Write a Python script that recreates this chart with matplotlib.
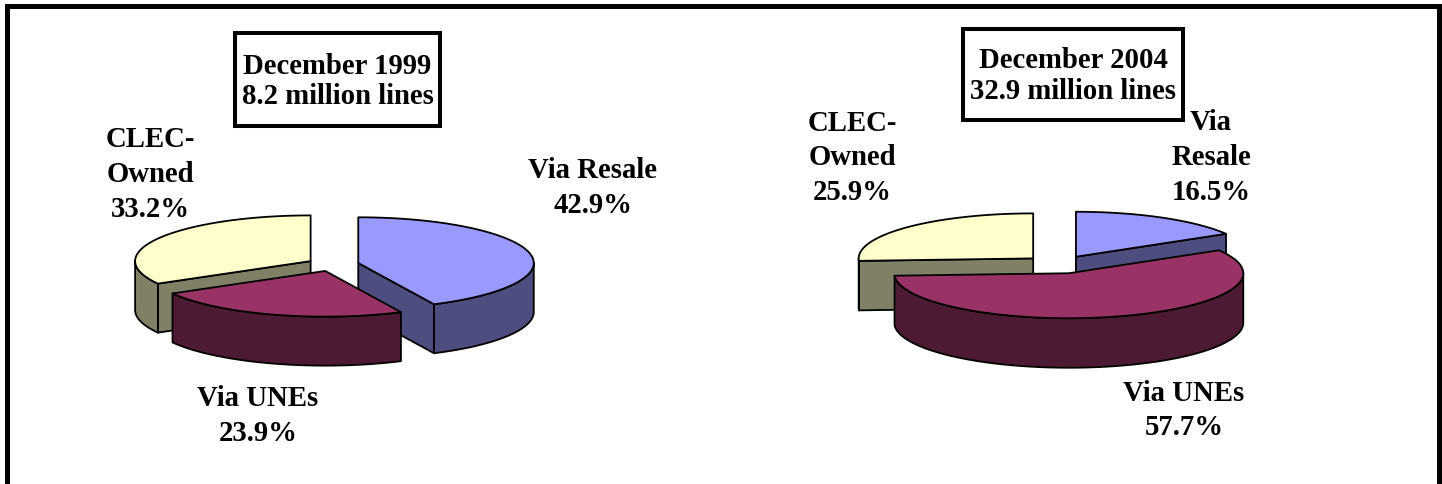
import numpy as np
import matplotlib
matplotlib.use("Agg")
import matplotlib.pyplot as plt
from matplotlib.patches import Polygon, Rectangle

# ---------------- data ----------------
categories = ["Via Resale", "Via UNEs", "CLEC-Owned"]
values_1999 = [42.9, 23.9, 33.2]
values_2004 = [16.5, 57.7, 25.9]
title_1999 = "December 1999\n8.2 million lines"
title_2004 = "December 2004\n32.9 million lines"
labels_1999 = ["Via Resale\n42.9%", "Via UNEs\n23.9%", "CLEC-\nOwned\n33.2%"]
labels_2004 = ["Via\nResale\n16.5%", "Via UNEs\n57.7%", "CLEC-\nOwned\n25.9%"]

top_colors = ["#9999FF", "#993366", "#FFFFCC"]
side_colors = ["#4D4D80", "#4D1A33", "#808066"]

W, H = 1442, 485
fig = plt.figure(figsize=(W / 100, H / 100), dpi=100)
ax = fig.add_axes([0, 0, 1, 1])
ax.set_xlim(0, W)
ax.set_ylim(H, 0)
ax.axis("off")

EC = "black"
LW = 1.3


def arc(sx, sy, rx, ry, t1, t2, dz=0.0, n=None):
    if n is None:
        n = max(2, int(abs(t2 - t1) / 1.5) + 2)
    t = np.radians(np.linspace(t1, t2, n))
    return np.column_stack([sx + rx * np.sin(t), sy - ry * np.cos(t) + dz])


def draw_pie(values, cx, cy, rx, ry, h, explode, z0=2):
    total = float(sum(values))
    start = 0.0
    slices = []
    for i, v in enumerate(values):
        t1 = start
        t2 = start + v / total * 360.0
        start = t2
        mid = np.radians((t1 + t2) / 2)
        sx = cx + explode * np.sin(mid)
        sy = cy - explode * (ry / rx) * np.cos(mid)
        slices.append((sy, i, t1, t2, sx))
    slices.sort()
    z = z0
    for sy, i, t1, t2, sx in slices:
        fc_top = top_colors[i]
        fc_side = side_colors[i]
        parts = []
        # radial faces
        for ang, nrm in ((t1, t1 - 90), (t2, t2 + 90)):
            if np.cos(np.radians(nrm)) < -1e-6:
                ox = sx + rx * np.sin(np.radians(ang))
                oy = sy - ry * np.cos(np.radians(ang))
                parts.append([(sx, sy), (ox, oy), (ox, oy + h), (sx, sy + h)])
        # outer curved side (front half only)
        a1, a2 = max(t1, 90.0), min(t2, 270.0)
        if a2 > a1:
            topa = arc(sx, sy, rx, ry, a1, a2)
            bota = arc(sx, sy, rx, ry, a1, a2, dz=h)[::-1]
            parts.append(np.vstack([topa, bota]))
        for p in parts:
            ax.add_patch(Polygon(p, closed=True, fc=fc_side, ec=EC, lw=LW,
                                 joinstyle="round", zorder=z))
        z += 0.1
        topface = np.vstack([[(sx, sy)], arc(sx, sy, rx, ry, t1, t2)])
        ax.add_patch(Polygon(topface, closed=True, fc=fc_top, ec=EC, lw=LW,
                             joinstyle="round", zorder=z))
        z += 0.1


draw_pie(values_1999, cx=333.0, cy=265.5, rx=175.5, ry=45.7, h=49.0, explode=25.9)
draw_pie(values_2004, cx=1058.6, cy=265.6, rx=174.5, ry=45.0, h=49.5, explode=35.0)

FONT = dict(family="Liberation Serif", weight="bold", fontsize=20.7, color="black")

# title boxes
for (x0, y0, x1, y1), txt in (((234.7, 33.7, 440.3, 127.0), title_1999),
                               ((963.0, 29.5, 1183.0, 121.0), title_2004)):
    ax.add_patch(Rectangle((x0, y0), x1 - x0, y1 - y0, fc="white", ec="black",
                           lw=2.9, zorder=10))
    ax.text((x0 + x1) / 2, (y0 + y1) / 2 + 1, txt, ha="center", va="center",
            multialignment="center", linespacing=1.17, zorder=11, **FONT)

# data labels
label_pos_1999 = [(593, 188), (258, 416), (150, 174.5)]
label_pos_2004 = [(1211, 157.5), (1184, 410.5), (852, 158)]
for labels, poss in ((labels_1999, label_pos_1999), (labels_2004, label_pos_2004)):
    for lab, (x, y) in zip(labels, poss):
        ax.text(x, y, lab, ha="center", va="center", multialignment="center",
                linespacing=1.36, zorder=12, **FONT)

# outer frame (top, left, right; bottom cropped)
fw = 5 * 0.72
ax.plot([6.5, 6.5, 1438.5, 1438.5], [H + 10, 6.5, 6.5, H + 10], color="black",
        lw=fw, solid_joinstyle="miter", zorder=20, clip_on=False)

fig.savefig("out.png", dpi=100)
